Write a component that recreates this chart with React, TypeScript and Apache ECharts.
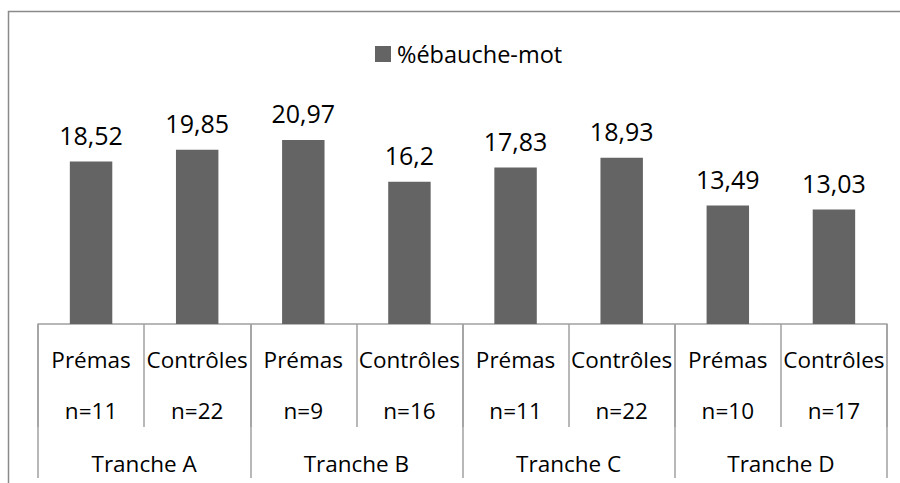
import React, { useEffect, useRef } from "react";
import * as echarts from "echarts";

const groups = ["Prémas", "Contrôles", "Prémas", "Contrôles", "Prémas", "Contrôles", "Prémas", "Contrôles"];
const counts = ["n=11", "n=22", "n=9", "n=16", "n=11", "n=22", "n=10", "n=17"];
const tranches = ["Tranche A", "Tranche B", "Tranche C", "Tranche D"];
const values = [18.52, 19.85, 20.97, 16.2, 17.83, 18.93, 13.49, 13.03];
const seriesName = "%ébauche-mot";

const FONT = "'Open Sans', sans-serif";

export default function App() {
  const ref = useRef<HTMLDivElement>(null);
  useEffect(() => {
    if (!ref.current) return;
    const chart = echarts.init(ref.current, null, { renderer: "svg" });
    const categories = groups.map((g, i) => g + "\n" + counts[i]);
    chart.setOption({
      animation: false,
      textStyle: { fontFamily: FONT },
      graphic: [
        {
          type: "rect",
          shape: { x: 8.5, y: 11.5, width: 1000, height: 1000 },
          style: { fill: "none", stroke: "#8a8a8a", lineWidth: 1.5 },
          silent: true,
        },
      ],
      legend: {
        left: 375,
        top: 42,
        padding: 0,
        itemWidth: 16,
        itemHeight: 16,
        icon: "rect",
        itemGap: 10,
        textStyle: { fontFamily: FONT, fontSize: 23.5, color: "#000", padding: [0, 0, 0, 1] },
        data: [seriesName],
      },
      grid: { left: 38, right: 13, top: 104.5, bottom: 159, containLabel: false },
      xAxis: [
        {
          type: "category",
          data: categories,
          position: "bottom",
          axisLine: { show: true, lineStyle: { color: "#a0a0a0", width: 1.5 } },
          axisTick: { show: true, length: 103, interval: 0, lineStyle: { color: "#a0a0a0", width: 1.5 } },
          axisLabel: {
            interval: 0,
            margin: 10,
            fontFamily: FONT,
            fontSize: 22.5,
            lineHeight: 51,
            color: "#000",
          },
        },
        {
          type: "category",
          data: tranches,
          position: "bottom",
          offset: 0,
          axisLine: { show: false },
          axisTick: { show: true, length: 154, interval: 0, lineStyle: { color: "#a0a0a0", width: 1.5 } },
          axisLabel: {
            interval: 0,
            margin: 128,
            fontFamily: FONT,
            fontSize: 22.5,
            lineHeight: 22,
            color: "#000",
          },
        },
      ],
      yAxis: {
        type: "value",
        min: 0,
        max: 25,
        show: false,
        splitLine: { show: false },
      },
      series: [
        {
          name: seriesName,
          type: "bar",
          xAxisIndex: 0,
          data: values,
          barWidth: "40%",
          itemStyle: { color: "#646464" },
          label: {
            show: true,
            position: "top",
            distance: 14,
            fontFamily: FONT,
            fontSize: 25,
            color: "#000",
            formatter: (p: any) => String(p.value).replace(".", ","),
          },
        },
      ],
    });
    return () => chart.dispose();
  }, []);
  return (
    <div
      ref={ref}
      style={{ position: "fixed", left: 0, top: 0, width: 900, height: 483, background: "#fff" }}
    />
  );
}
